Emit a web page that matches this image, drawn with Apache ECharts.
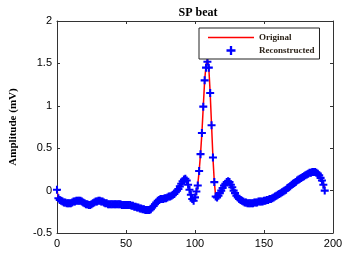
<!DOCTYPE html>
<html>
<head>
<meta charset="utf-8">
<script src="https://cdn.jsdelivr.net/npm/echarts@6/dist/echarts.min.js"></script>
<style>html,body{margin:0;padding:0;background:#fff}#c{width:346px;height:257px}</style>
</head>
<body>
<div id="c"></div>
<script>
const titleText = 'SP beat';
const yAxisName = 'Amplitude (mV)';
const seriesNames = ['Original', 'Reconstructed'];
const xTicks = [0, 50, 100, 150, 200];
const yTicks = [-0.5, 0, 0.5, 1, 1.5, 2];

const original = [
  0.01,-0.09,-0.11,-0.12,-0.13,-0.14,-0.14,-0.15,-0.15,-0.15,
  -0.15,-0.14,-0.13,-0.13,-0.12,-0.12,-0.12,-0.12,-0.13,-0.14,
  -0.15,-0.16,-0.16,-0.17,-0.17,-0.16,-0.15,-0.14,-0.13,-0.13,
  -0.12,-0.12,-0.13,-0.13,-0.14,-0.15,-0.15,-0.16,-0.16,-0.16,
  -0.16,-0.16,-0.16,-0.16,-0.16,-0.16,-0.16,-0.17,-0.17,-0.17,
  -0.17,-0.17,-0.17,-0.17,-0.18,-0.18,-0.19,-0.19,-0.20,-0.20,
  -0.21,-0.21,-0.22,-0.22,-0.23,-0.23,-0.23,-0.23,-0.22,-0.20,
  -0.18,-0.16,-0.14,-0.12,-0.11,-0.10,-0.10,-0.10,-0.09,-0.09,
  -0.08,-0.07,-0.07,-0.06,-0.05,-0.04,-0.02,0.00,0.02,0.05,
  0.08,0.11,0.13,0.14,0.12,0.07,0.01,-0.05,-0.10,-0.12,
  -0.08,-0.02,0.07,0.23,0.43,0.68,0.99,1.30,1.48,1.55,
  1.45,1.15,0.77,0.39,0.10,-0.07,-0.08,-0.06,-0.03,0.00,
  0.03,0.06,0.08,0.10,0.11,0.10,0.07,0.04,0.00,-0.03,
  -0.06,-0.08,-0.10,-0.11,-0.12,-0.13,-0.14,-0.14,-0.15,-0.15,
  -0.15,-0.15,-0.15,-0.14,-0.14,-0.14,-0.13,-0.13,-0.13,-0.13,
  -0.12,-0.12,-0.11,-0.11,-0.10,-0.10,-0.09,-0.08,-0.07,-0.06,
  -0.05,-0.04,-0.03,-0.02,-0.01,0.00,0.01,0.03,0.04,0.05,
  0.07,0.08,0.09,0.10,0.12,0.13,0.14,0.15,0.16,0.17,
  0.18,0.19,0.20,0.21,0.21,0.22,0.22,0.22,0.21,0.20,
  0.18,0.16,0.13,0.09,0.03
];
const reconstructed = [
  0.01,-0.09,-0.11,-0.12,-0.13,-0.14,-0.14,-0.15,-0.15,-0.15,
  -0.15,-0.14,-0.13,-0.13,-0.12,-0.12,-0.12,-0.12,-0.13,-0.14,
  -0.15,-0.16,-0.16,-0.17,-0.17,-0.16,-0.15,-0.14,-0.13,-0.13,
  -0.12,-0.12,-0.13,-0.13,-0.14,-0.15,-0.15,-0.16,-0.16,-0.16,
  -0.16,-0.16,-0.16,-0.16,-0.16,-0.16,-0.16,-0.17,-0.17,-0.17,
  -0.17,-0.17,-0.17,-0.17,-0.18,-0.18,-0.19,-0.19,-0.20,-0.20,
  -0.21,-0.21,-0.22,-0.22,-0.23,-0.23,-0.23,-0.23,-0.22,-0.20,
  -0.18,-0.16,-0.14,-0.12,-0.11,-0.10,-0.10,-0.10,-0.09,-0.09,
  -0.08,-0.07,-0.07,-0.06,-0.05,-0.04,-0.02,0.00,0.02,0.05,
  0.08,0.11,0.13,0.14,0.12,0.07,0.01,-0.05,-0.10,-0.12,
  -0.08,-0.01,0.06,0.23,0.43,0.68,0.99,1.30,1.45,1.52,
  1.45,1.15,0.77,0.39,0.10,-0.07,-0.08,-0.06,-0.03,0.00,
  0.03,0.06,0.08,0.10,0.11,0.10,0.07,0.04,0.00,-0.03,
  -0.06,-0.08,-0.10,-0.11,-0.12,-0.13,-0.14,-0.14,-0.15,-0.15,
  -0.15,-0.15,-0.15,-0.14,-0.14,-0.14,-0.13,-0.13,-0.13,-0.13,
  -0.12,-0.12,-0.11,-0.11,-0.10,-0.10,-0.09,-0.08,-0.07,-0.06,
  -0.05,-0.04,-0.03,-0.02,-0.01,0.00,0.01,0.03,0.04,0.05,
  0.07,0.08,0.09,0.10,0.12,0.13,0.14,0.15,0.16,0.17,
  0.18,0.19,0.20,0.21,0.21,0.22,0.22,0.22,0.21,0.20,
  0.18,0.15,0.12,0.07,0.00
];

const pairs = arr => arr.map((v, i) => [i, v]);
const plusPath = 'path://M2.6,0H4.4V2.6H7V4.4H4.4V7H2.6V4.4H0V2.6H2.6Z';
const linePath = 'path://M0,0H46V1.5H0Z';
const serif = '"Liberation Serif", "DejaVu Serif", serif';
const sans = '"Liberation Sans", Arial, sans-serif';
const axisCol = '#333';

const chart = echarts.init(document.getElementById('c'), null, {renderer: 'canvas'});
const baseX = {
  type: 'value', min: xTicks[0], max: xTicks[xTicks.length - 1], interval: xTicks[1] - xTicks[0],
  axisLine: {show: true, onZero: false, lineStyle: {color: axisCol, width: 1}},
  axisTick: {show: true, inside: true, length: 3, lineStyle: {color: axisCol}},
  splitLine: {show: false}
};
const baseY = {
  type: 'value', min: yTicks[0], max: yTicks[yTicks.length - 1], interval: yTicks[1] - yTicks[0],
  axisLine: {show: true, onZero: false, lineStyle: {color: axisCol, width: 1}},
  axisTick: {show: true, inside: true, length: 3, lineStyle: {color: axisCol}},
  splitLine: {show: false}
};
chart.setOption({
  animation: false,
  backgroundColor: '#fff',
  title: {
    text: titleText, left: 193, top: 2, textAlign: 'center',
    textStyle: {fontFamily: serif, fontWeight: 'bold', fontSize: 12, color: '#000'}
  },
  grid: {left: 53, right: 13, top: 21, bottom: 24, containLabel: false},
  legend: {
    orient: 'vertical', left: 199, top: 28,
    padding: [5, 5, 4, 9], itemGap: 4, itemWidth: 46, itemHeight: 9,
    symbolKeepAspect: true,
    backgroundColor: '#fff', borderColor: '#222', borderWidth: 1, borderRadius: 0,
    textStyle: {fontFamily: serif, fontWeight: 'bold', fontSize: 9, color: '#2b2218', padding: [0, 0, 0, 0]},
    data: [
      {name: seriesNames[0], icon: linePath, itemStyle: {color: '#ff0000'}},
      {name: seriesNames[1], icon: plusPath, itemStyle: {color: '#0000ff'}}
    ]
  },
  xAxis: [
    Object.assign({}, baseX, {position: 'bottom',
      axisLabel: {color: '#000', fontFamily: sans, fontSize: 11, margin: 5}}),
    Object.assign({}, baseX, {position: 'top', axisLabel: {show: false}})
  ],
  yAxis: [
    Object.assign({}, baseY, {position: 'left',
      name: yAxisName, nameLocation: 'middle', nameGap: 38, nameRotate: 90,
      nameTextStyle: {fontFamily: serif, fontWeight: 'bold', fontSize: 11, color: '#000'},
      axisLabel: {color: '#000', fontFamily: sans, fontSize: 11, margin: 5}}),
    Object.assign({}, baseY, {position: 'right', axisLabel: {show: false}})
  ],
  series: [
    {
      name: seriesNames[0], type: 'line', data: pairs(original),
      symbol: 'none', lineStyle: {color: '#ff0000', width: 1.5}, itemStyle: {color: '#ff0000'}, z: 2
    },
    {
      name: seriesNames[1], type: 'scatter', data: pairs(reconstructed),
      symbol: plusPath, symbolSize: 8, symbolKeepAspect: true,
      itemStyle: {color: '#0000ff', opacity: 1}, z: 3
    }
  ]
});
</script>
</body>
</html>
